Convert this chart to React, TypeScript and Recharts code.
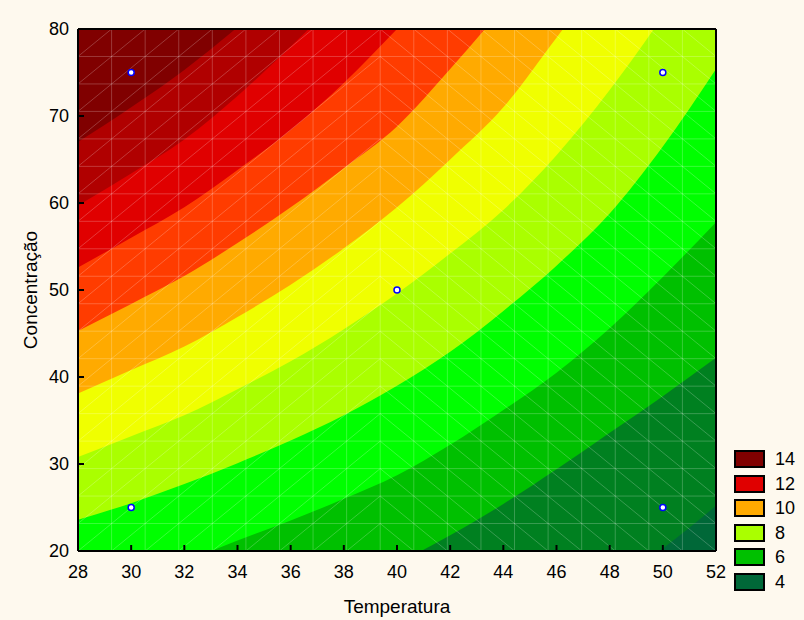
import React from "react";
import { ComposedChart, Area, Scatter, XAxis, YAxis, CartesianGrid, ReferenceLine } from "recharts";

// temperatures at which the contour lines were read
const temps = [28, 30, 32, 34, 36, 38, 40, 42, 44, 46, 48, 50, 52];

// concentration of each contour line (level 5 .. 14) at the temperatures above
const c5 = [-8, -6, -4, -2, 0, 2, 4.5, 7, 9.5, 12.5, 16, 20.3, 25.2];
const c6 = [6, 8, 10.5, 12.8, 14.8, 16.8, 18.7, 21.8, 25.4, 29.4, 33.6, 37.8, 42.2];
const c7 = [14.5, 16.6, 18.8, 21.2, 23.5, 26, 28.7, 32.2, 36.2, 40.5, 45.6, 51.5, 57.8];
const c8 = [23.6, 25.5, 27.7, 30.1, 32.7, 35.6, 39, 42.9, 47.6, 52.8, 58.8, 66.5, 75.4];
const c9 = [30.8, 33.2, 35.6, 38.6, 41.8, 45.5, 49.6, 54.2, 59.2, 65.5, 73, 81.5, 91];
const c10 = [38.1, 40.8, 43.5, 46.9, 50.6, 54.8, 59.5, 65, 71, 79, 87, 95, 103];
const c11 = [45.3, 48.4, 51.6, 55.4, 59.5, 64, 68.8, 75.4, 82.5, 90, 97.5, 105, 113];
const c12 = [52.6, 56, 59.5, 63.8, 68.4, 73.8, 80, 86.5, 93, 100, 107, 114, 121];
const c13 = [59.7, 63.4, 67.3, 72.3, 78, 84, 90.5, 97, 103.5, 110, 116.5, 123, 130];
const c14 = [67, 71, 75.3, 80.2, 85.5, 91, 97, 103, 109, 115, 121, 127, 133];

const levels = [5, 6, 7, 8, 9, 10, 11, 12, 13, 14];
const contours = [c5, c6, c7, c8, c9, c10, c11, c12, c13, c14];
const bandColors = ["#008020", "#00c000", "#00ff00", "#aaff00", "#f0ff00", "#ffaa00", "#ff3c00", "#e00000", "#b00000", "#800000"];
const lowestColor = "#006838";

// design points
const pointT = [30, 50, 40, 30, 50];
const pointC = [75, 75, 50, 25, 25];

const legendLabels = ["14", "12", "10", "8", "6", "4"];
const legendColors = ["#800000", "#e00000", "#ffaa00", "#aaff00", "#00c000", "#006838"];

const xTicks = [28, 30, 32, 34, 36, 38, 40, 42, 44, 46, 48, 50, 52];
const yTicks = [20, 30, 40, 50, 60, 70, 80];

const rows = temps.map((t, i) => {
  const r: Record<string, number> = { t };
  levels.forEach((lv, k) => {
    r["c" + lv] = contours[k][i];
  });
  return r;
});
const points = pointT.map((t, i) => ({ t, c: pointC[i] }));

// interpolation mesh drawn faintly over the surface
const N = 19;
const split = 9;
const mx = (c: number) => 28 + (c * 24) / N;
const my = (r: number) => 20 + (r * 60) / N;
const meshLines = Array.from({ length: N - 1 }, (_, i) => i + 1);
const diagonals: { x1: number; y1: number; x2: number; y2: number }[] = [];
for (let s = -N; s <= split; s++) {
  const a = Math.max(0, s);
  const b = Math.min(split, N + s);
  if (b > a) diagonals.push({ x1: mx(a), y1: my(a - s), x2: mx(b), y2: my(b - s) });
}
for (let s = split; s <= 2 * N; s++) {
  const a = Math.max(split, s - N);
  const b = Math.min(N, s);
  if (b > a) diagonals.push({ x1: mx(a), y1: my(s - a), x2: mx(b), y2: my(s - b) });
}

const font = "'Liberation Sans', Arial, sans-serif";
const meshStroke = "rgba(255,255,255,0.22)";

const Dot = (props: any) => (
  <circle cx={props.cx} cy={props.cy} r={3} fill="#ffffff" stroke="#0000ff" strokeWidth={1.5} />
);

export default function App() {
  return (
    <div style={{ position: "absolute", left: 0, top: 0, width: 804, height: 620, background: "#fef9ee", fontFamily: font }}>
      <ComposedChart width={804} height={620} data={rows} margin={{ top: 28, right: 87, bottom: 0, left: 0 }}>
        <CartesianGrid fill={lowestColor} horizontal={false} vertical={false} />
        {levels.map((lv, k) => (
          <Area
            key={lv}
            type="monotone"
            dataKey={"c" + lv}
            baseValue={80}
            fill={bandColors[k]}
            fillOpacity={1}
            stroke="none"
            isAnimationActive={false}
          />
        ))}
        {meshLines.map((i) => (
          <ReferenceLine key={"mx" + i} x={mx(i)} stroke={meshStroke} ifOverflow="hidden" />
        ))}
        {meshLines.map((i) => (
          <ReferenceLine key={"my" + i} y={my(i)} stroke={meshStroke} ifOverflow="hidden" />
        ))}
        {diagonals.map((d, i) => (
          <ReferenceLine
            key={"d" + i}
            segment={[{ x: d.x1, y: d.y1 }, { x: d.x2, y: d.y2 }]}
            stroke={meshStroke}
            ifOverflow="hidden"
          />
        ))}
        <Scatter data={points} dataKey="c" shape={Dot} isAnimationActive={false} />
        <XAxis
          dataKey="t"
          type="number"
          domain={[28, 52]}
          ticks={xTicks}
          allowDataOverflow
          height={69}
          axisLine={{ stroke: "#000", strokeWidth: 2 }}
          tickLine={{ stroke: "#000", strokeWidth: 2 }}
          tickSize={-6}
          tickMargin={20}
          tick={{ fill: "#000", fontSize: 18, fontFamily: font }}
          label={{ value: "Temperatura", position: "insideBottom", offset: 7, fill: "#000", fontSize: 19, fontFamily: font }}
        />
        <XAxis
          xAxisId="top"
          orientation="top"
          type="number"
          domain={[28, 52]}
          ticks={xTicks}
          height={1}
          axisLine={{ stroke: "#000", strokeWidth: 2 }}
          tickLine={{ stroke: "#000", strokeWidth: 2 }}
          tickSize={-6}
          tick={false}
        />
        <YAxis
          type="number"
          domain={[20, 80]}
          ticks={yTicks}
          allowDataOverflow
          width={78}
          axisLine={{ stroke: "#000", strokeWidth: 2 }}
          tickLine={{ stroke: "#000", strokeWidth: 2 }}
          tickSize={-6}
          tickMargin={15}
          tick={{ fill: "#000", fontSize: 18, fontFamily: font }}
          label={{
            value: "Concentração",
            angle: -90,
            position: "insideLeft",
            offset: 30,
            fill: "#000",
            fontSize: 19,
            fontFamily: font,
            style: { textAnchor: "middle" },
          }}
        />
        <YAxis
          yAxisId="right"
          orientation="right"
          type="number"
          domain={[20, 80]}
          ticks={yTicks}
          width={1}
          axisLine={{ stroke: "#000", strokeWidth: 2 }}
          tickLine={{ stroke: "#000", strokeWidth: 2 }}
          tickSize={-6}
          tick={false}
        />
      </ComposedChart>
      <div style={{ position: "absolute", left: 734, top: 450 }}>
        {legendLabels.map((lab, i) => (
          <div key={lab} style={{ position: "absolute", left: 0, top: i * 24.6, width: 70, height: 18 }}>
            <div
              style={{
                position: "absolute",
                left: 0,
                top: 0,
                width: 31,
                height: 18,
                boxSizing: "border-box",
                border: "2px solid #000",
                background: legendColors[i],
              }}
            />
            <span style={{ position: "absolute", left: 41, top: -1, fontSize: 18, lineHeight: "20px", color: "#000" }}>{lab}</span>
          </div>
        ))}
      </div>
    </div>
  );
}
